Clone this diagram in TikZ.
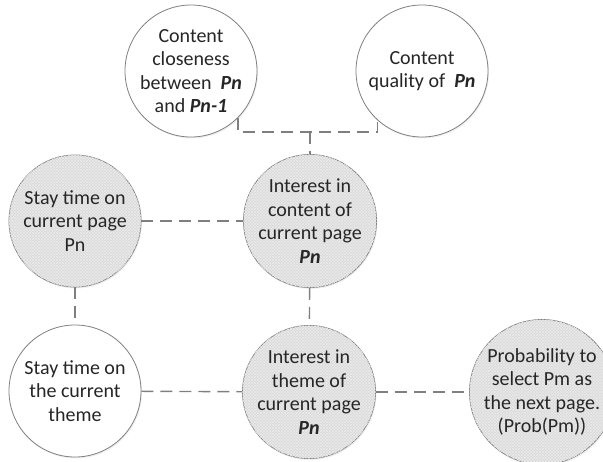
\documentclass[tikz,border=0pt]{standalone}
\usepackage{fontspec}
\setmainfont{Carlito}
\usetikzlibrary{patterns,shadows}
\definecolor{edgegray}{HTML}{7F7F7F}
\definecolor{fillgray}{HTML}{D9D9D9}
\definecolor{hatchgray}{HTML}{EAEAEA}
\definecolor{txt}{HTML}{262626}
\tikzset{
  bubble/.style={circle, draw=edgegray, line width=0.8pt, minimum size=132pt, inner sep=0pt,
    align=center, text=txt, font=\fontsize{20}{23.5}\selectfont,
    drop shadow={opacity=0.12, shadow xshift=1pt, shadow yshift=-1.5pt}},
  plainbubble/.style={bubble, fill=white},
  shadedbubble/.style={bubble, fill=fillgray,
    postaction={pattern=north east lines, pattern color=hatchgray},
    postaction={pattern=north west lines, pattern color=hatchgray}},
  conn/.style={draw=edgegray, line width=1.4pt, dash pattern=on 12pt off 7pt},
}
\newcommand{\bi}[1]{\textbf{\textit{#1}}}
\begin{document}
\begin{tikzpicture}[x=1pt,y=-1pt]
\useasboundingbox (0,0) rectangle (603,461);
\node[plainbubble] (A) at (191,71) {Content\\closeness\\between \ \bi{Pn}\\and \bi{Pn-1}};
\node[plainbubble] (B) at (422,71) {Content\\quality of \ \bi{Pn}};
\node[shadedbubble] (D) at (75,221) {Stay time on\\current page\\Pn};
\node[shadedbubble] (C) at (310,221) {Interest in\\content of\\current page\\\bi{Pn}};
\node[plainbubble] (E) at (75,391) {Stay time on\\the current\\theme};
\node[shadedbubble] (F) at (309,392) {Interest in\\theme of\\current page\\\bi{Pn}};
\node[shadedbubble] (G) at (542,392) {Probability to\\select Pm as\\the next page.\\(Prob(Pm))};
\coordinate (j) at (310,132);
\draw[conn] (A.-45) |- (j) -| (B.-132);
\draw[conn] (j) -- (C.north);
\draw[conn] (D) -- (C);
\draw[conn] (D) -- (E);
\draw[conn] (C) -- (F);
\draw[conn] (E) -- (F);
\draw[conn] (F) -- (G);
\end{tikzpicture}
\end{document}
